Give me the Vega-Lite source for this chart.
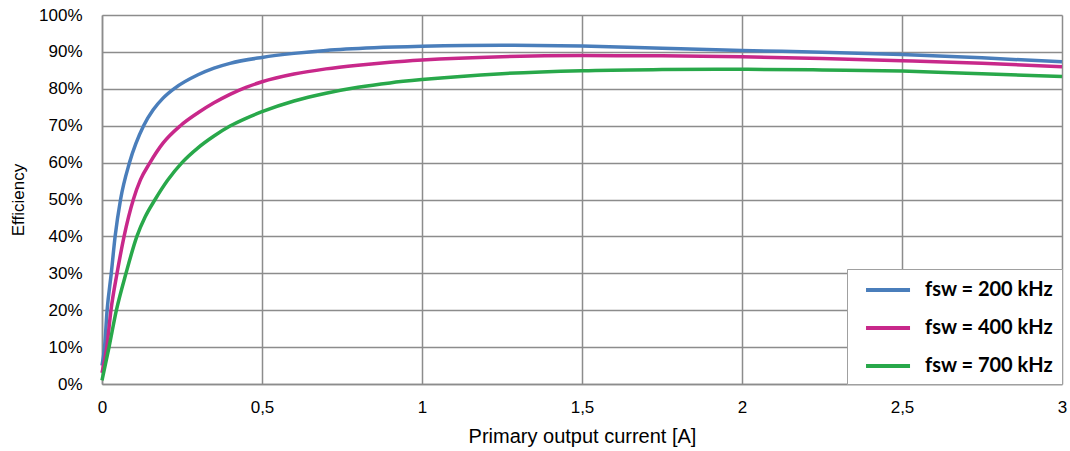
{
  "$schema": "https://vega.github.io/schema/vega-lite/v6.json",
  "autosize": {"type": "none"},
  "width": 960,
  "height": 369,
  "padding": {"left": 102, "top": 15, "right": 8, "bottom": 67},
  "background": "white",
  "config": {
    "view": {"stroke": null},
    "font": "Liberation Sans"
  },
  "data": {
    "values": [
      {"I": 0.0, "eff": 5, "s": "fsw = 200 kHz"},
      {"I": 0.008, "eff": 10, "s": "fsw = 200 kHz"},
      {"I": 0.016, "eff": 20, "s": "fsw = 200 kHz"},
      {"I": 0.029, "eff": 30, "s": "fsw = 200 kHz"},
      {"I": 0.041, "eff": 40, "s": "fsw = 200 kHz"},
      {"I": 0.058, "eff": 50, "s": "fsw = 200 kHz"},
      {"I": 0.086, "eff": 60, "s": "fsw = 200 kHz"},
      {"I": 0.13, "eff": 70, "s": "fsw = 200 kHz"},
      {"I": 0.16, "eff": 74.3, "s": "fsw = 200 kHz"},
      {"I": 0.19, "eff": 77.4, "s": "fsw = 200 kHz"},
      {"I": 0.228, "eff": 80.2, "s": "fsw = 200 kHz"},
      {"I": 0.3, "eff": 83.8, "s": "fsw = 200 kHz"},
      {"I": 0.35, "eff": 85.6, "s": "fsw = 200 kHz"},
      {"I": 0.4, "eff": 86.9, "s": "fsw = 200 kHz"},
      {"I": 0.5, "eff": 88.5, "s": "fsw = 200 kHz"},
      {"I": 0.6, "eff": 89.6, "s": "fsw = 200 kHz"},
      {"I": 0.7, "eff": 90.4, "s": "fsw = 200 kHz"},
      {"I": 0.85, "eff": 91.1, "s": "fsw = 200 kHz"},
      {"I": 1.0, "eff": 91.5, "s": "fsw = 200 kHz"},
      {"I": 1.25, "eff": 91.8, "s": "fsw = 200 kHz"},
      {"I": 1.5, "eff": 91.6, "s": "fsw = 200 kHz"},
      {"I": 1.75, "eff": 91.0, "s": "fsw = 200 kHz"},
      {"I": 2.0, "eff": 90.4, "s": "fsw = 200 kHz"},
      {"I": 2.25, "eff": 89.9, "s": "fsw = 200 kHz"},
      {"I": 2.5, "eff": 89.3, "s": "fsw = 200 kHz"},
      {"I": 2.75, "eff": 88.4, "s": "fsw = 200 kHz"},
      {"I": 3.0, "eff": 87.3, "s": "fsw = 200 kHz"},
      {"I": 0.0, "eff": 3, "s": "fsw = 400 kHz"},
      {"I": 0.015, "eff": 10, "s": "fsw = 400 kHz"},
      {"I": 0.028, "eff": 20, "s": "fsw = 400 kHz"},
      {"I": 0.047, "eff": 30, "s": "fsw = 400 kHz"},
      {"I": 0.069, "eff": 40, "s": "fsw = 400 kHz"},
      {"I": 0.098, "eff": 50, "s": "fsw = 400 kHz"},
      {"I": 0.12, "eff": 55.3, "s": "fsw = 400 kHz"},
      {"I": 0.15, "eff": 60, "s": "fsw = 400 kHz"},
      {"I": 0.19, "eff": 65.2, "s": "fsw = 400 kHz"},
      {"I": 0.245, "eff": 70, "s": "fsw = 400 kHz"},
      {"I": 0.3, "eff": 73.5, "s": "fsw = 400 kHz"},
      {"I": 0.35, "eff": 76.2, "s": "fsw = 400 kHz"},
      {"I": 0.4, "eff": 78.5, "s": "fsw = 400 kHz"},
      {"I": 0.45, "eff": 80.4, "s": "fsw = 400 kHz"},
      {"I": 0.5, "eff": 81.9, "s": "fsw = 400 kHz"},
      {"I": 0.6, "eff": 84.0, "s": "fsw = 400 kHz"},
      {"I": 0.7, "eff": 85.4, "s": "fsw = 400 kHz"},
      {"I": 0.8, "eff": 86.4, "s": "fsw = 400 kHz"},
      {"I": 0.9, "eff": 87.2, "s": "fsw = 400 kHz"},
      {"I": 1.0, "eff": 87.8, "s": "fsw = 400 kHz"},
      {"I": 1.25, "eff": 88.7, "s": "fsw = 400 kHz"},
      {"I": 1.5, "eff": 89.0, "s": "fsw = 400 kHz"},
      {"I": 1.75, "eff": 88.95, "s": "fsw = 400 kHz"},
      {"I": 2.0, "eff": 88.7, "s": "fsw = 400 kHz"},
      {"I": 2.25, "eff": 88.2, "s": "fsw = 400 kHz"},
      {"I": 2.5, "eff": 87.6, "s": "fsw = 400 kHz"},
      {"I": 2.75, "eff": 86.9, "s": "fsw = 400 kHz"},
      {"I": 3.0, "eff": 86.0, "s": "fsw = 400 kHz"},
      {"I": 0.0, "eff": 1, "s": "fsw = 700 kHz"},
      {"I": 0.022, "eff": 10, "s": "fsw = 700 kHz"},
      {"I": 0.045, "eff": 20, "s": "fsw = 700 kHz"},
      {"I": 0.075, "eff": 30, "s": "fsw = 700 kHz"},
      {"I": 0.109, "eff": 40, "s": "fsw = 700 kHz"},
      {"I": 0.135, "eff": 45.3, "s": "fsw = 700 kHz"},
      {"I": 0.166, "eff": 50, "s": "fsw = 700 kHz"},
      {"I": 0.205, "eff": 55.2, "s": "fsw = 700 kHz"},
      {"I": 0.25, "eff": 60, "s": "fsw = 700 kHz"},
      {"I": 0.3, "eff": 64.0, "s": "fsw = 700 kHz"},
      {"I": 0.35, "eff": 67.2, "s": "fsw = 700 kHz"},
      {"I": 0.4, "eff": 69.9, "s": "fsw = 700 kHz"},
      {"I": 0.45, "eff": 72.0, "s": "fsw = 700 kHz"},
      {"I": 0.5, "eff": 73.8, "s": "fsw = 700 kHz"},
      {"I": 0.6, "eff": 76.7, "s": "fsw = 700 kHz"},
      {"I": 0.7, "eff": 78.8, "s": "fsw = 700 kHz"},
      {"I": 0.8, "eff": 80.4, "s": "fsw = 700 kHz"},
      {"I": 0.9, "eff": 81.6, "s": "fsw = 700 kHz"},
      {"I": 1.0, "eff": 82.5, "s": "fsw = 700 kHz"},
      {"I": 1.25, "eff": 84.1, "s": "fsw = 700 kHz"},
      {"I": 1.5, "eff": 84.9, "s": "fsw = 700 kHz"},
      {"I": 1.75, "eff": 85.2, "s": "fsw = 700 kHz"},
      {"I": 2.0, "eff": 85.3, "s": "fsw = 700 kHz"},
      {"I": 2.25, "eff": 85.1, "s": "fsw = 700 kHz"},
      {"I": 2.5, "eff": 84.8, "s": "fsw = 700 kHz"},
      {"I": 2.75, "eff": 84.1, "s": "fsw = 700 kHz"},
      {"I": 3.0, "eff": 83.3, "s": "fsw = 700 kHz"}
    ]
  },
  "mark": {"type": "line", "interpolate": "monotone", "strokeWidth": 3.5},
  "encoding": {
    "x": {
      "field": "I", "type": "quantitative",
      "scale": {"domain": [0, 3], "nice": false},
      "axis": {
        "title": "Primary output current [A]",
        "values": [0, 0.5, 1, 1.5, 2, 2.5, 3],
        "labelExpr": "replace(toString(datum.value), '.', ',')",
        "labelFlush": false,
        "labelFontSize": 17, "labelColor": "#000", "labelPadding": 15,
        "titleFontSize": 20, "titleFontWeight": "normal", "titleColor": "#000", "titlePadding": 11,
        "ticks": false,
        "grid": true, "gridColor": "#8c8c8c", "gridWidth": 1.5,
        "domainColor": "#8c8c8c", "domainWidth": 1.5
      }
    },
    "y": {
      "field": "eff", "type": "quantitative",
      "scale": {"domain": [0, 100], "nice": false},
      "axis": {
        "title": "Efficiency",
        "values": [0, 10, 20, 30, 40, 50, 60, 70, 80, 90, 100],
        "labelExpr": "datum.value + '%'",
        "labelFontSize": 17, "labelColor": "#000", "labelPadding": 20,
        "titleFontSize": 17, "titleFontWeight": "normal", "titleColor": "#000", "titlePadding": 11,
        "ticks": false,
        "grid": true, "gridColor": "#8c8c8c", "gridWidth": 1.5,
        "domainColor": "#8c8c8c", "domainWidth": 1.5
      }
    },
    "color": {
      "field": "s", "type": "nominal",
      "scale": {"domain": ["fsw = 200 kHz", "fsw = 400 kHz", "fsw = 700 kHz"], "range": ["#4a7ebb", "#c8288a", "#28a84a"]},
      "legend": {
        "title": null,
        "orient": "bottom-right",
        "offset": 0,
        "fillColor": "white",
        "strokeColor": "#a0a0a0",
        "padding": 8,
        "symbolType": "M-0.18,0H3.82",
        "symbolSize": 484,
        "symbolStrokeWidth": 4,
        "labelFont": "Lato",
        "labelFontSize": 20,
        "labelFontWeight": "bold",
        "labelColor": "#000",
        "labelOffset": 44,
        "rowPadding": 15
      }
    }
  }
}
